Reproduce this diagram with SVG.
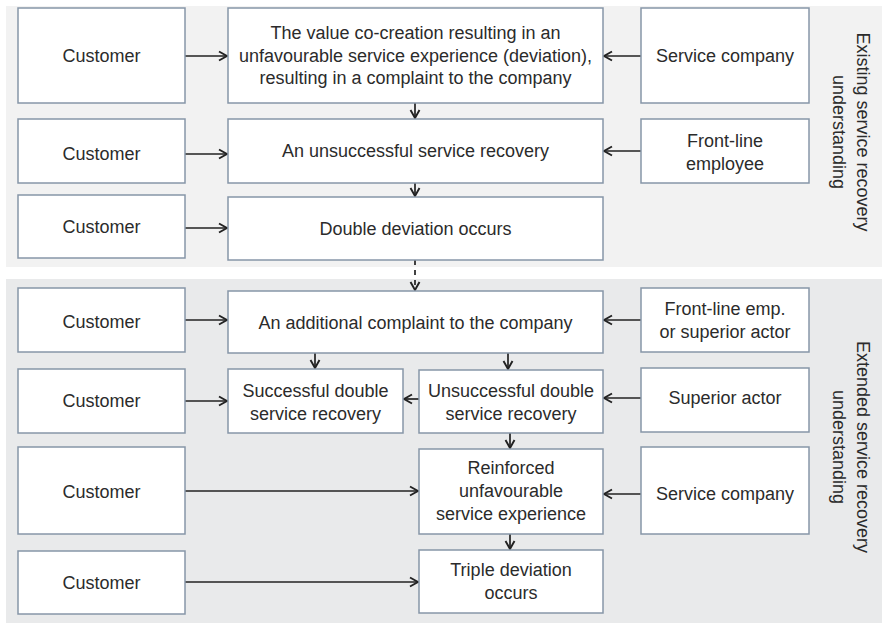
<svg xmlns="http://www.w3.org/2000/svg" width="882" height="623" viewBox="0 0 882 623">
<style>
.bx{fill:#fff;stroke:#8796a8;stroke-width:1.5}
.t{font-family:"Liberation Sans",Arial,sans-serif;font-size:18px;fill:#2b2b2b;text-anchor:middle}
.c{stroke:#222;stroke-width:1.7;fill:none;marker-end:url(#ah)}
</style>
<defs>
<marker id="ah" viewBox="0 0 12 12" refX="11" refY="6" markerWidth="12" markerHeight="12" markerUnits="userSpaceOnUse" orient="auto">
<path d="M3,1.5 L11,6 L3,10.5" fill="none" stroke="#222" stroke-width="1.9"/>
</marker>
</defs>
<rect x="0" y="0" width="882" height="623" fill="#fff"/>
<rect x="6" y="6" width="876" height="261" fill="#f2f2f2"/>
<rect x="6" y="279" width="876" height="344" fill="#e9eaeb"/>

<g id="connectors">
<line class="c" x1="185" y1="56" x2="227" y2="56"/>
<line class="c" x1="641" y1="56" x2="604" y2="56"/>
<line class="c" x1="415" y1="103" x2="415" y2="118"/>
<line class="c" x1="185" y1="154" x2="227" y2="154"/>
<line class="c" x1="641" y1="151" x2="604" y2="151"/>
<line class="c" x1="415" y1="183" x2="415" y2="196"/>
<line class="c" x1="185" y1="228" x2="227" y2="228"/>
<line class="c" x1="415" y1="260" x2="415" y2="290" stroke-dasharray="5,5"/>
<line class="c" x1="185" y1="320" x2="227" y2="320"/>
<line class="c" x1="641" y1="320" x2="604" y2="320"/>
<line class="c" x1="315" y1="353" x2="315" y2="368"/>
<line class="c" x1="508" y1="353" x2="508" y2="369"/>
<line class="c" x1="185" y1="401" x2="227" y2="401"/>
<line class="c" x1="419" y1="399" x2="404" y2="399"/>
<line class="c" x1="641" y1="398" x2="604" y2="398"/>
<line class="c" x1="510" y1="433" x2="510" y2="448"/>
<line class="c" x1="185" y1="491" x2="418" y2="491"/>
<line class="c" x1="641" y1="494" x2="604" y2="494"/>
<line class="c" x1="510" y1="534" x2="510" y2="549"/>
<line class="c" x1="185" y1="582" x2="418" y2="582"/>
</g>

<g id="cust1"><rect class="bx" x="18" y="8" width="167" height="95"/><text class="t" x="101.5" y="62">Customer</text></g>
<g id="deviation"><rect class="bx" x="228" y="8" width="375" height="95"/>
<text class="t" x="415.5" y="39">The value co-creation resulting in an</text>
<text class="t" x="415.5" y="62">unfavourable service experience (deviation),</text>
<text class="t" x="415.5" y="84">resulting in a complaint to the company</text></g>
<g id="company1"><rect class="bx" x="641" y="8" width="168" height="95"/><text class="t" x="725" y="62">Service company</text></g>

<g id="cust2"><rect class="bx" x="18" y="119" width="167" height="64"/><text class="t" x="101.5" y="160">Customer</text></g>
<g id="unsuccessful"><rect class="bx" x="228" y="119" width="375" height="64"/><text class="t" x="415.5" y="157">An unsuccessful service recovery</text></g>
<g id="frontline"><rect class="bx" x="641" y="119" width="168" height="64"/><text class="t" x="725" y="147">Front-line</text><text class="t" x="725" y="170">employee</text></g>

<g id="cust3"><rect class="bx" x="18" y="195" width="167" height="63"/><text class="t" x="101.5" y="233">Customer</text></g>
<g id="double"><rect class="bx" x="228" y="197" width="375" height="63"/><text class="t" x="415.5" y="235">Double deviation occurs</text></g>

<g id="label1"><text class="t" transform="translate(857,132) rotate(90)">Existing service recovery</text><text class="t" transform="translate(833,132) rotate(90)">understanding</text></g>

<g id="cust4"><rect class="bx" x="18" y="288" width="167" height="64"/><text class="t" x="101.5" y="328">Customer</text></g>
<g id="additional"><rect class="bx" x="228" y="291" width="375" height="62"/><text class="t" x="415.5" y="329">An additional complaint to the company</text></g>
<g id="frontline2"><rect class="bx" x="641" y="288" width="168" height="64"/><text class="t" x="725" y="315">Front-line emp.</text><text class="t" x="725" y="338">or superior actor</text></g>

<g id="cust5"><rect class="bx" x="18" y="369" width="167" height="64"/><text class="t" x="101.5" y="407">Customer</text></g>
<g id="successful2"><rect class="bx" x="228" y="369" width="175" height="64"/><text class="t" x="315.5" y="397">Successful double</text><text class="t" x="315.5" y="420">service recovery</text></g>
<g id="unsuccessful2"><rect class="bx" x="419" y="370" width="184" height="63"/><text class="t" x="511" y="397">Unsuccessful double</text><text class="t" x="511" y="420">service recovery</text></g>
<g id="superior"><rect class="bx" x="641" y="368" width="168" height="64"/><text class="t" x="725" y="404">Superior actor</text></g>

<g id="cust6"><rect class="bx" x="18" y="447" width="167" height="87"/><text class="t" x="101.5" y="498">Customer</text></g>
<g id="reinforced"><rect class="bx" x="419" y="449" width="184" height="85"/><text class="t" x="511" y="474">Reinforced</text><text class="t" x="511" y="497">unfavourable</text><text class="t" x="511" y="520">service experience</text></g>
<g id="company2"><rect class="bx" x="641" y="447" width="168" height="87"/><text class="t" x="725" y="500">Service company</text></g>

<g id="cust7"><rect class="bx" x="18" y="551" width="167" height="63"/><text class="t" x="101.5" y="589">Customer</text></g>
<g id="triple"><rect class="bx" x="419" y="550" width="184" height="63"/><text class="t" x="511" y="576">Triple deviation</text><text class="t" x="511" y="599">occurs</text></g>

<g id="label2"><text class="t" transform="translate(857,447) rotate(90)">Extended service recovery</text><text class="t" transform="translate(833,447) rotate(90)">understanding</text></g>
</svg>
